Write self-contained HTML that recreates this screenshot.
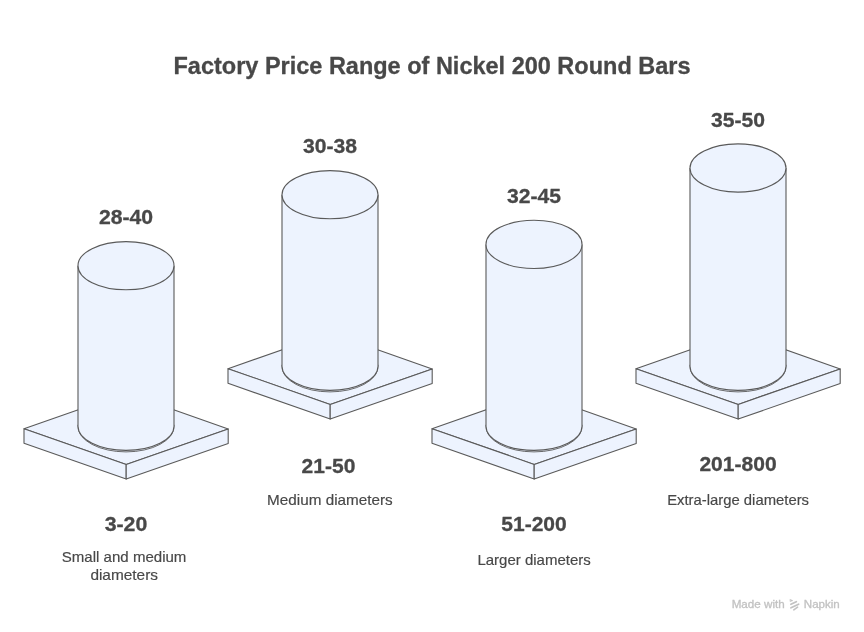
<!DOCTYPE html>
<html>
<head>
<meta charset="utf-8">
<title>Factory Price Range of Nickel 200 Round Bars</title>
<style>
html, body { margin: 0; padding: 0; background: #ffffff; }
body { width: 864px; height: 632px; overflow: hidden; font-family: "Liberation Sans", sans-serif; }
svg { display: block; will-change: transform; }
svg text { font-family: "Liberation Sans", sans-serif; }
</style>
</head>
<body>
<svg width="864" height="632" viewBox="0 0 864 632">
<rect width="864" height="632" fill="#ffffff"/>
<g fill="#edf3fe" stroke="#5a5a5a" stroke-width="1.1" stroke-linejoin="round">
<polygon points="24.0,428.7 126.2,393.0 228.2,429.0 126.2,464.4"/>
<polygon points="24.0,428.7 126.2,464.4 126.2,479.0 24.0,443.3"/>
<polygon points="126.2,464.4 228.2,429.0 228.2,443.6 126.2,479.0"/>
<path d="M78.0,424.8 L78.0,426.3 A48.0,25.6 0 0 0 174.0,426.3 L174.0,424.8" stroke-width="0.9"/>
<path d="M78.0,265.7 L78.0,426.3 A48.0,24.1 0 0 0 174.0,426.3 L174.0,265.7"/>
<ellipse cx="126.0" cy="265.7" rx="48.0" ry="24.1"/>
<polygon points="228.0,368.7 330.2,333.0 432.2,369.0 330.2,404.4"/>
<polygon points="228.0,368.7 330.2,404.4 330.2,419.0 228.0,383.3"/>
<polygon points="330.2,404.4 432.2,369.0 432.2,383.6 330.2,419.0"/>
<path d="M282.0,364.8 L282.0,366.3 A48.0,25.6 0 0 0 378.0,366.3 L378.0,364.8" stroke-width="0.9"/>
<path d="M282.0,194.7 L282.0,366.3 A48.0,24.1 0 0 0 378.0,366.3 L378.0,194.7"/>
<ellipse cx="330.0" cy="194.7" rx="48.0" ry="24.1"/>
<polygon points="432.0,428.7 534.2,393.0 636.2,429.0 534.2,464.4"/>
<polygon points="432.0,428.7 534.2,464.4 534.2,479.0 432.0,443.3"/>
<polygon points="534.2,464.4 636.2,429.0 636.2,443.6 534.2,479.0"/>
<path d="M486.0,424.8 L486.0,426.3 A48.0,25.6 0 0 0 582.0,426.3 L582.0,424.8" stroke-width="0.9"/>
<path d="M486.0,244.4 L486.0,426.3 A48.0,24.1 0 0 0 582.0,426.3 L582.0,244.4"/>
<ellipse cx="534.0" cy="244.4" rx="48.0" ry="24.1"/>
<polygon points="636.0,368.7 738.2,333.0 840.2,369.0 738.2,404.4"/>
<polygon points="636.0,368.7 738.2,404.4 738.2,419.0 636.0,383.3"/>
<polygon points="738.2,404.4 840.2,369.0 840.2,383.6 738.2,419.0"/>
<path d="M690.0,364.8 L690.0,366.3 A48.0,25.6 0 0 0 786.0,366.3 L786.0,364.8" stroke-width="0.9"/>
<path d="M690.0,168.0 L690.0,366.3 A48.0,24.1 0 0 0 786.0,366.3 L786.0,168.0"/>
<ellipse cx="738.0" cy="168.0" rx="48.0" ry="24.1"/>
</g>
<g>
<text x="432" y="74" font-size="24.4" font-weight="700" text-anchor="middle" fill="#484848" stroke="#484848" stroke-width="0.3" stroke-linejoin="round" textLength="517" lengthAdjust="spacingAndGlyphs">Factory Price Range of Nickel 200 Round Bars</text>
<text x="126" y="224" font-size="20.7" font-weight="700" text-anchor="middle" fill="#484848" stroke="#484848" stroke-width="0.3" stroke-linejoin="round" textLength="54.2" lengthAdjust="spacingAndGlyphs">28-40</text>
<text x="330" y="153" font-size="20.7" font-weight="700" text-anchor="middle" fill="#484848" stroke="#484848" stroke-width="0.3" stroke-linejoin="round" textLength="54" lengthAdjust="spacingAndGlyphs">30-38</text>
<text x="534" y="203" font-size="20.7" font-weight="700" text-anchor="middle" fill="#484848" stroke="#484848" stroke-width="0.3" stroke-linejoin="round" textLength="54" lengthAdjust="spacingAndGlyphs">32-45</text>
<text x="738" y="127" font-size="20.7" font-weight="700" text-anchor="middle" fill="#484848" stroke="#484848" stroke-width="0.3" stroke-linejoin="round" textLength="54" lengthAdjust="spacingAndGlyphs">35-50</text>
<text x="126" y="531" font-size="20.7" font-weight="700" text-anchor="middle" fill="#484848" stroke="#484848" stroke-width="0.3" stroke-linejoin="round" textLength="42.6" lengthAdjust="spacingAndGlyphs">3-20</text>
<text x="328.5" y="473" font-size="20.7" font-weight="700" text-anchor="middle" fill="#484848" stroke="#484848" stroke-width="0.3" stroke-linejoin="round" textLength="53.8" lengthAdjust="spacingAndGlyphs">21-50</text>
<text x="534" y="531" font-size="20.7" font-weight="700" text-anchor="middle" fill="#484848" stroke="#484848" stroke-width="0.3" stroke-linejoin="round" textLength="65.4" lengthAdjust="spacingAndGlyphs">51-200</text>
<text x="738" y="471" font-size="20.7" font-weight="700" text-anchor="middle" fill="#484848" stroke="#484848" stroke-width="0.3" stroke-linejoin="round" textLength="77.2" lengthAdjust="spacingAndGlyphs">201-800</text>
<text x="124.1" y="562" font-size="15" font-weight="400" text-anchor="middle" fill="#484848" stroke="#484848" stroke-width="0.18" textLength="124.6" lengthAdjust="spacingAndGlyphs">Small and medium</text>
<text x="124.2" y="580" font-size="15" font-weight="400" text-anchor="middle" fill="#484848" stroke="#484848" stroke-width="0.18" textLength="67.6" lengthAdjust="spacingAndGlyphs">diameters</text>
<text x="329.9" y="504.6" font-size="15" font-weight="400" text-anchor="middle" fill="#484848" stroke="#484848" stroke-width="0.18" textLength="125.6" lengthAdjust="spacingAndGlyphs">Medium diameters</text>
<text x="534.1" y="564.6" font-size="15" font-weight="400" text-anchor="middle" fill="#484848" stroke="#484848" stroke-width="0.18" textLength="113.4" lengthAdjust="spacingAndGlyphs">Larger diameters</text>
<text x="738.1" y="504.6" font-size="15" font-weight="400" text-anchor="middle" fill="#484848" stroke="#484848" stroke-width="0.18" textLength="141.8" lengthAdjust="spacingAndGlyphs">Extra-large diameters</text>
<text x="731.7" y="608" font-size="11" font-weight="400" text-anchor="start" fill="#c2c2c2" stroke="#c2c2c2" stroke-width="0.3" textLength="53" lengthAdjust="spacingAndGlyphs">Made with</text>
<text x="803.8" y="608" font-size="11" font-weight="400" text-anchor="start" fill="#c2c2c2" stroke="#c2c2c2" stroke-width="0.3" textLength="36" lengthAdjust="spacingAndGlyphs">Napkin</text>
</g>
<g fill="none" stroke="#c2c2c2" stroke-linecap="round">
<polygon points="790.3,599.5 792.8,600.6 790.5,601.5" fill="#c2c2c2" stroke-width="0.6" stroke-linejoin="round"/>
<path d="M790.9,604.2 L796.3,601.7" stroke-width="1.8"/>
<path d="M791.0,607.8 L798.6,604.2" stroke-width="1.8"/>
<path d="M793.8,609.9 L797.6,607.1" stroke-width="1.6"/>
</g>
</svg>
</body>
</html>
